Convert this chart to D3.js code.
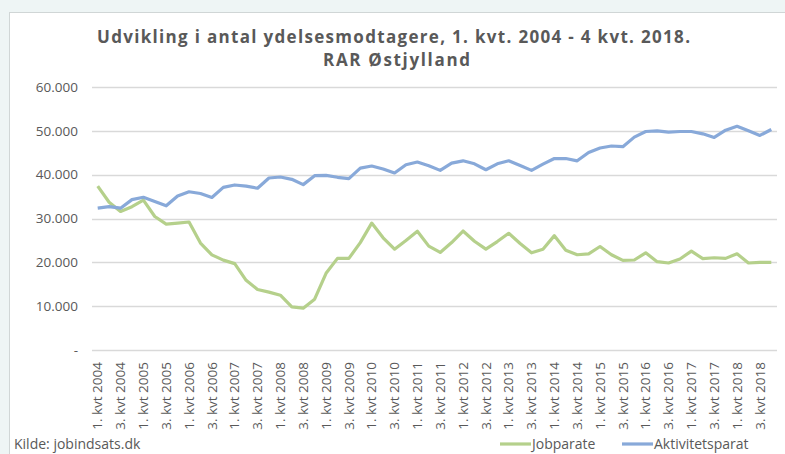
<!DOCTYPE html>
<html>
<head>
<meta charset="utf-8">
<script src="https://cdn.jsdelivr.net/npm/d3@7"></script>
<style>
  body { margin: 0; background: #eef5f5; }
  svg { display: block; }
  text { font-family: "Open Sans", "Liberation Sans", sans-serif; fill: #595959; }
</style>
</head>
<body>
<svg id="chart"></svg>
<script>
// quarters 1. kvt 2004 .. 4. kvt 2018
const years = d3.range(2004, 2019);
const quarters = years.flatMap(y => [1, 2, 3, 4].map(q => `${q}. kvt ${y}`));

const jobparate = [
  37400, 33700, 31600, 32700, 34200, 30450, 28700, 28950, 29200, 24400,
  21700, 20500, 19700, 15900, 13800, 13200, 12500, 9850, 9550, 11600,
  17500, 20900, 20900, 24500, 28950, 25600, 23000, 25000, 27100, 23700,
  22260, 24510, 27140, 24810, 23000, 24740, 26620, 24290, 22180, 23000,
  26090, 22780, 21730, 21950, 23610, 21730, 20450, 20530, 22180, 20150,
  19850, 20750, 22560, 20830, 21050, 20900, 21950, 19850, 20000, 20000
];

const aktivitetsparat = [
  32350, 32700, 32350, 34300, 34850, 33900, 32900, 35150, 36100, 35700,
  34800, 37100, 37650, 37400, 36900, 39240, 39470, 38940, 37730, 39770,
  39850, 39400, 39100, 41500, 41970, 41300, 40380, 42270, 42880, 42050,
  40980, 42630, 43160, 42480, 41130, 42480, 43160, 42100, 40980, 42400,
  43680, 43680, 43160, 45040, 46090, 46540, 46390, 48570, 49850, 50000,
  49700, 49850, 49850, 49320, 48500, 50150, 51050, 50000, 48950, 50300
];

const yTicks = [0, 10000, 20000, 30000, 40000, 50000, 60000];

const series = [
  { name: 'Jobparate', values: jobparate, color: '#b5d08b' },
  { name: 'Aktivitetsparat', values: aktivitetsparat, color: '#88a9d9' }
];

const W = 785, H = 454;
const margin = { top: 87, right: 8, bottom: 104, left: 92 };

const svg = d3.select('#chart').attr('width', W).attr('height', H);

// white chart panel with thin frame, like the pasted Excel chart
svg.append('rect')
  .attr('x', 9.5).attr('y', 12.5)
  .attr('width', W).attr('height', H)
  .attr('fill', '#fff').attr('stroke', '#d0d6d6');

// title: stretched to the width of the original narrow font
svg.append('text')
  .attr('x', 97).attr('y', 43)
  .attr('font-size', 17).attr('font-weight', 'bold')
  .attr('textLength', 593).attr('lengthAdjust', 'spacing')
  .text('Udvikling i antal ydelsesmodtagere, 1. kvt. 2004 - 4 kvt. 2018.');
svg.append('text')
  .attr('x', 323).attr('y', 66)
  .attr('font-size', 17).attr('font-weight', 'bold')
  .attr('textLength', 147).attr('lengthAdjust', 'spacing')
  .text('RAR Østjylland');

const x = d3.scaleBand()
  .domain(quarters)
  .range([margin.left, W - margin.right]);

const y = d3.scaleLinear()
  .domain([0, 60000])
  .range([H - margin.bottom, margin.top]);

const fmt = v => v === 0 ? '-' : d3.format(',')(v).replace(/,/g, '.');

// gridlines
svg.append('g')
  .selectAll('line')
  .data(yTicks)
  .join('line')
  .attr('x1', margin.left).attr('x2', W - margin.right)
  .attr('y1', d => Math.round(y(d)) + 0.5).attr('y2', d => Math.round(y(d)) + 0.5)
  .attr('stroke', '#d9d9d9').attr('stroke-width', 1.3);

const yAxis = d3.axisLeft(y).tickValues(yTicks).tickFormat(fmt).tickSize(0).tickPadding(14);
svg.append('g')
  .attr('transform', `translate(${margin.left},0)`)
  .call(yAxis)
  .call(g => g.select('.domain').remove())
  .selectAll('text')
  .attr('font-size', 13.5)
  .attr('fill', '#595959')
  .style('font-family', '"Open Sans", "Liberation Sans", sans-serif');

// category labels, every second quarter, rotated
const xAxis = d3.axisBottom(x)
  .tickValues(quarters.filter((d, i) => i % 2 === 0))
  .tickSize(0).tickPadding(0);
svg.append('g')
  .attr('transform', `translate(0,${H - margin.bottom})`)
  .call(xAxis)
  .call(g => g.select('.domain').remove())
  .selectAll('text')
  .attr('font-size', 13.5)
  .attr('fill', '#595959')
  .style('font-family', '"Open Sans", "Liberation Sans", sans-serif')
  .attr('text-anchor', 'end')
  .attr('dy', '0.35em')
  .attr('transform', 'translate(0,12) rotate(-90)');

const line = d3.line()
  .x((d, i) => x(quarters[i]) + x.bandwidth() / 2)
  .y(d => y(d));

svg.append('g')
  .selectAll('path')
  .data(series)
  .join('path')
  .attr('fill', 'none')
  .attr('stroke', d => d.color)
  .attr('stroke-width', 3.2)
  .attr('stroke-linejoin', 'round')
  .attr('d', d => line(d.values));

// legend, kept just inside the bottom edge
const legend = svg.append('g').attr('transform', 'translate(500,444)');
const items = [{ s: series[0], x: 0 }, { s: series[1], x: 122 }];
items.forEach(it => {
  legend.append('line')
    .attr('x1', it.x).attr('x2', it.x + 31)
    .attr('y1', 0).attr('y2', 0)
    .attr('stroke', it.s.color).attr('stroke-width', 3.2);
  legend.append('text')
    .attr('x', it.x + 32).attr('y', 5)
    .attr('font-size', 14)
    .text(it.s.name);
});

svg.append('text')
  .attr('x', 14).attr('y', 449)
  .attr('font-size', 14)
  .text('Kilde: jobindsats.dk');
</script>
</body>
</html>
